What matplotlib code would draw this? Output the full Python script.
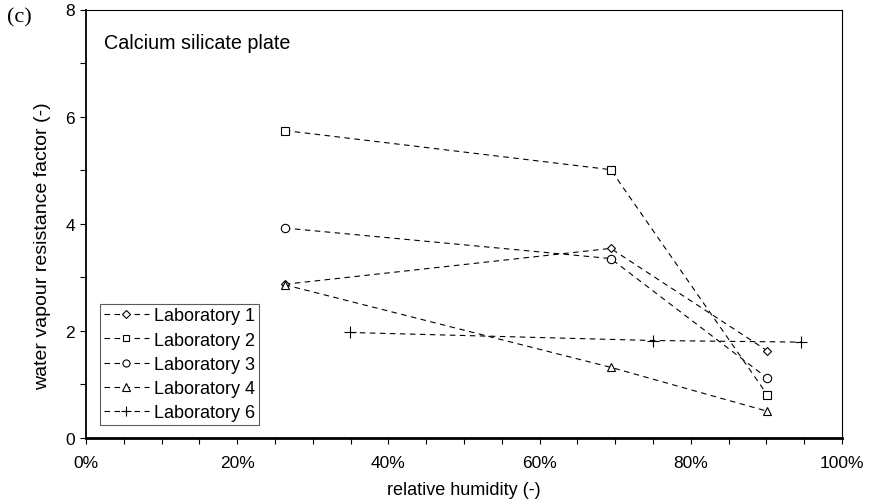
import matplotlib
matplotlib.use("Agg")
import matplotlib.pyplot as plt
from matplotlib.ticker import MultipleLocator, PercentFormatter

labels = ["Laboratory 1", "Laboratory 2", "Laboratory 3", "Laboratory 4", "Laboratory 6"]
markers = ["D", "s", "o", "^", "+"]

x_lab1 = [0.263, 0.694, 0.901]
y_lab1 = [2.87, 3.54, 1.63]
x_lab2 = [0.263, 0.694, 0.901]
y_lab2 = [5.74, 5.01, 0.81]
x_lab3 = [0.263, 0.694, 0.901]
y_lab3 = [3.92, 3.35, 1.12]
x_lab4 = [0.263, 0.694, 0.901]
y_lab4 = [2.86, 1.32, 0.50]
x_lab6 = [0.349, 0.750, 0.946]
y_lab6 = [1.97, 1.82, 1.79]

xs = [x_lab1, x_lab2, x_lab3, x_lab4, x_lab6]
ys = [y_lab1, y_lab2, y_lab3, y_lab4, y_lab6]

plt.rcParams['font.family'] = ['Liberation Sans', 'DejaVu Sans']

fig = plt.figure(figsize=(8.7, 5.02), dpi=100)
ax = fig.add_axes([86/870, 1-439/502, (842-86)/870, (439-10.5)/502])

sizes = {"D": 4.5, "s": 5.5, "o": 6, "^": 6, "+": 9}
for x, y, m, lab in zip(xs, ys, markers, labels):
    ax.plot(x, y, linestyle=(0, (5, 4)), color='black', linewidth=0.8,
            marker=m, markersize=sizes[m], markerfacecolor='white',
            markeredgecolor='black', markeredgewidth=0.8, label=lab)

ax.set_xlim(0, 1)
ax.set_ylim(0, 8)
ax.xaxis.set_major_locator(MultipleLocator(0.2))
ax.xaxis.set_minor_locator(MultipleLocator(0.05))
ax.xaxis.set_major_formatter(PercentFormatter(1.0, decimals=0))
ax.yaxis.set_major_locator(MultipleLocator(2))
ax.yaxis.set_minor_locator(MultipleLocator(1))

ax.tick_params(axis='both', which='both', direction='out', length=4, width=0.8,
               labelsize=12.5, colors='black')
ax.tick_params(axis='x', which='major', pad=8)
ax.tick_params(axis='y', which='major', pad=4)

for side in ['top', 'right']:
    ax.spines[side].set_linewidth(0.8)
ax.spines['left'].set_linewidth(1.3)
ax.spines['bottom'].set_linewidth(2.0)

ax.set_xlabel("relative humidity (-)", fontsize=13, labelpad=8)
ax.set_ylabel("water vapour resistance factor (-)", fontsize=14)
ax.yaxis.set_label_coords(-0.046, 0.45)

ax.text(0.024, 0.945, "Calcium silicate plate", transform=ax.transAxes,
        fontsize=14.2, ha='left', va='top')
fig.text(7/870, 1-18/502, "(c)", family='Liberation Serif', fontsize=16,
         ha='left', va='center')

leg = ax.legend(loc='lower left', bbox_to_anchor=(14/756, 13/428.5), fontsize=13,
                frameon=True, fancybox=False, edgecolor='#333333',
                handlelength=2.5, handletextpad=0.3, labelspacing=0.4,
                borderpad=0.2, borderaxespad=0.0, markerscale=0.85)
leg.get_frame().set_linewidth(0.8)

fig.savefig("out.png", dpi=100)
